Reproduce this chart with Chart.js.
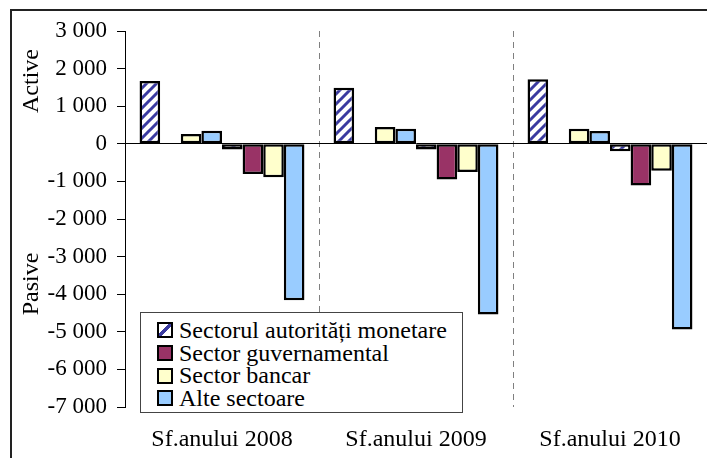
<!DOCTYPE html>
<html>
<head>
<meta charset="utf-8">
<script src="https://cdn.jsdelivr.net/npm/chart.js@4/dist/chart.umd.min.js"></script>
<style>
  html, body { margin: 0; padding: 0; background: #fff; overflow: hidden; }
  #wrap { position: relative; width: 707px; height: 458px; overflow: hidden; }
  #frame { position: absolute; left: 10px; top: 9px; width: 900px; height: 900px;
           border: 2px solid #222; pointer-events: none; }
  canvas { position: absolute; left: 0; top: 0; }
  #legend { position: absolute; left: 140px; top: 312px; width: 323px; height: 101px;
            box-sizing: border-box; border: 1px solid #444; background: #fff;
            padding-top: 6px; font-family: "Liberation Serif", Tinos, "Times New Roman", Times, "DejaVu Serif", serif;
            font-size: 24px; color: #000; }
  .row { display: flex; align-items: center; height: 22.7px; white-space: nowrap; }
  .sw { width: 16px; height: 16px; box-sizing: border-box; border: 2px solid #000;
        margin-left: 16px; margin-right: 6px; flex: none; }
</style>
</head>
<body>
<div id="wrap">
  <canvas id="c" width="707" height="458"></canvas>
  <div id="frame"></div>
  <div id="legend"></div>
</div>
<script>
// ---- data ----
const categories = ["Sf.anului 2008", "Sf.anului 2009", "Sf.anului 2010"];
const sectorNames = ["Sectorul autorități monetare", "Sector guvernamental", "Sector bancar", "Alte sectoare"];
// Active (assets)
const activeMonetary = [1670, 1490, 1720];
const activeGovernment = [null, null, null];
const activeBanking = [260, 450, 400];
const activeOther = [350, 400, 340];
// Pasive (liabilities)
const passiveMonetary = [-150, -150, -200];
const passiveGovernment = [-800, -950, -1110];
const passiveBanking = [-890, -750, -720];
const passiveOther = [-4160, -4540, -4940];
const yTitles = ["Active", "Pasive"];

// ---- styles ----
const FONT = '"Liberation Serif", Tinos, "Times New Roman", Times, "DejaVu Serif", serif';
const NAVY = '#3a3aa0';
function hatch() {
  const t = document.createElement('canvas');
  t.width = 10; t.height = 10;
  const g = t.getContext('2d');
  g.fillStyle = '#fff'; g.fillRect(0, 0, 10, 10);
  g.strokeStyle = NAVY; g.lineWidth = 3;
  g.beginPath();
  g.moveTo(-2, 2); g.lineTo(2, -2);
  g.moveTo(0, 10); g.lineTo(10, 0);
  g.moveTo(8, 12); g.lineTo(12, 8);
  g.stroke();
  return document.getElementById('c').getContext('2d').createPattern(t, 'repeat');
}
const hatchFill = hatch();
const colors = [hatchFill, '#993366', '#FFFFCC', '#99CCFF'];
const swatchCss = [
  'linear-gradient(135deg, #fff 38%, ' + NAVY + ' 38%, ' + NAVY + ' 62%, #fff 62%)',
  '#993366', '#FFFFCC', '#99CCFF'
];

const seriesList = [activeMonetary, activeGovernment, activeBanking, activeOther,
                    passiveMonetary, passiveGovernment, passiveBanking, passiveOther];
const datasets = seriesList.map((d, i) => ({
  label: sectorNames[i % 4] + (i < 4 ? ' (active)' : ' (pasive)'),
  data: d,
  backgroundColor: colors[i % 4],
  borderColor: '#000',
  borderWidth: 2.5,
  borderSkipped: false
}));

function fmt(v) {
  const s = Math.abs(v).toString().replace(/\B(?=(\d{3})+(?!\d))/g, ' ');
  return (v < 0 ? '-' : '') + s;
}

const titlesPlugin = {
  id: 'yTitles',
  afterDraw(chart) {
    const ctx = chart.ctx;
    ctx.save();
    ctx.fillStyle = '#000';
    ctx.font = '24px ' + FONT;
    ctx.textAlign = 'center';
    ctx.textBaseline = 'middle';
    [[yTitles[0], 81], [yTitles[1], 284]].forEach(([t, y]) => {
      ctx.save();
      ctx.translate(32, y);
      ctx.rotate(-Math.PI / 2);
      ctx.fillText(t, 0, 0);
      ctx.restore();
    });
    ctx.restore();
  }
};

Chart.defaults.font.family = FONT;
Chart.defaults.color = '#000';

function draw() {
  new Chart(document.getElementById('c'), {
    type: 'bar',
    data: { labels: categories, datasets },
    options: {
      responsive: false,
      animation: false,
      devicePixelRatio: 1,
      layout: { padding: { top: 31, left: 0, right: 0, bottom: 0 } },
      datasets: { bar: { categoryPercentage: 0.85, barPercentage: 1 } },
      plugins: { legend: { display: false }, tooltip: { enabled: false } },
      scales: {
        x: {
          afterFit(s) { s.height = 51; },
          grid: {
            offset: true,
            drawTicks: false,
            lineWidth: 1,
            color: (c) => (c.index === 1 || c.index === 2) ? '#808080' : 'rgba(0,0,0,0)'
          },
          border: { display: false, dash: [6, 5] },
          ticks: { font: { size: 24 }, padding: 18, color: '#000' }
        },
        y: {
          min: -7000, max: 3000,
          afterFit(s) { s.width = 125; },
          ticks: { stepSize: 1000, font: { size: 23 }, padding: 10, color: '#000', callback: (v) => fmt(v) },
          grid: {
            tickLength: 8,
            tickColor: '#000',
            lineWidth: 1,
            color: (c) => (c.tick && c.tick.value === 0) ? '#000' : 'rgba(0,0,0,0)'
          },
          border: { display: true, color: '#000', width: 1 }
        }
      }
    },
    plugins: [titlesPlugin]
  });
}

// HTML legend
const lg = document.getElementById('legend');
sectorNames.forEach((n, i) => {
  const r = document.createElement('div');
  r.className = 'row';
  const sw = document.createElement('span');
  sw.className = 'sw';
  sw.style.background = swatchCss[i];
  const tx = document.createElement('span');
  tx.textContent = n;
  r.appendChild(sw); r.appendChild(tx);
  lg.appendChild(r);
});

if (document.fonts && document.fonts.load) {
  Promise.all([document.fonts.load('23px "Liberation Serif"'), document.fonts.load('23px "DejaVu Serif"')])
    .then(draw, draw);
} else { draw(); }
</script>
</body>
</html>
